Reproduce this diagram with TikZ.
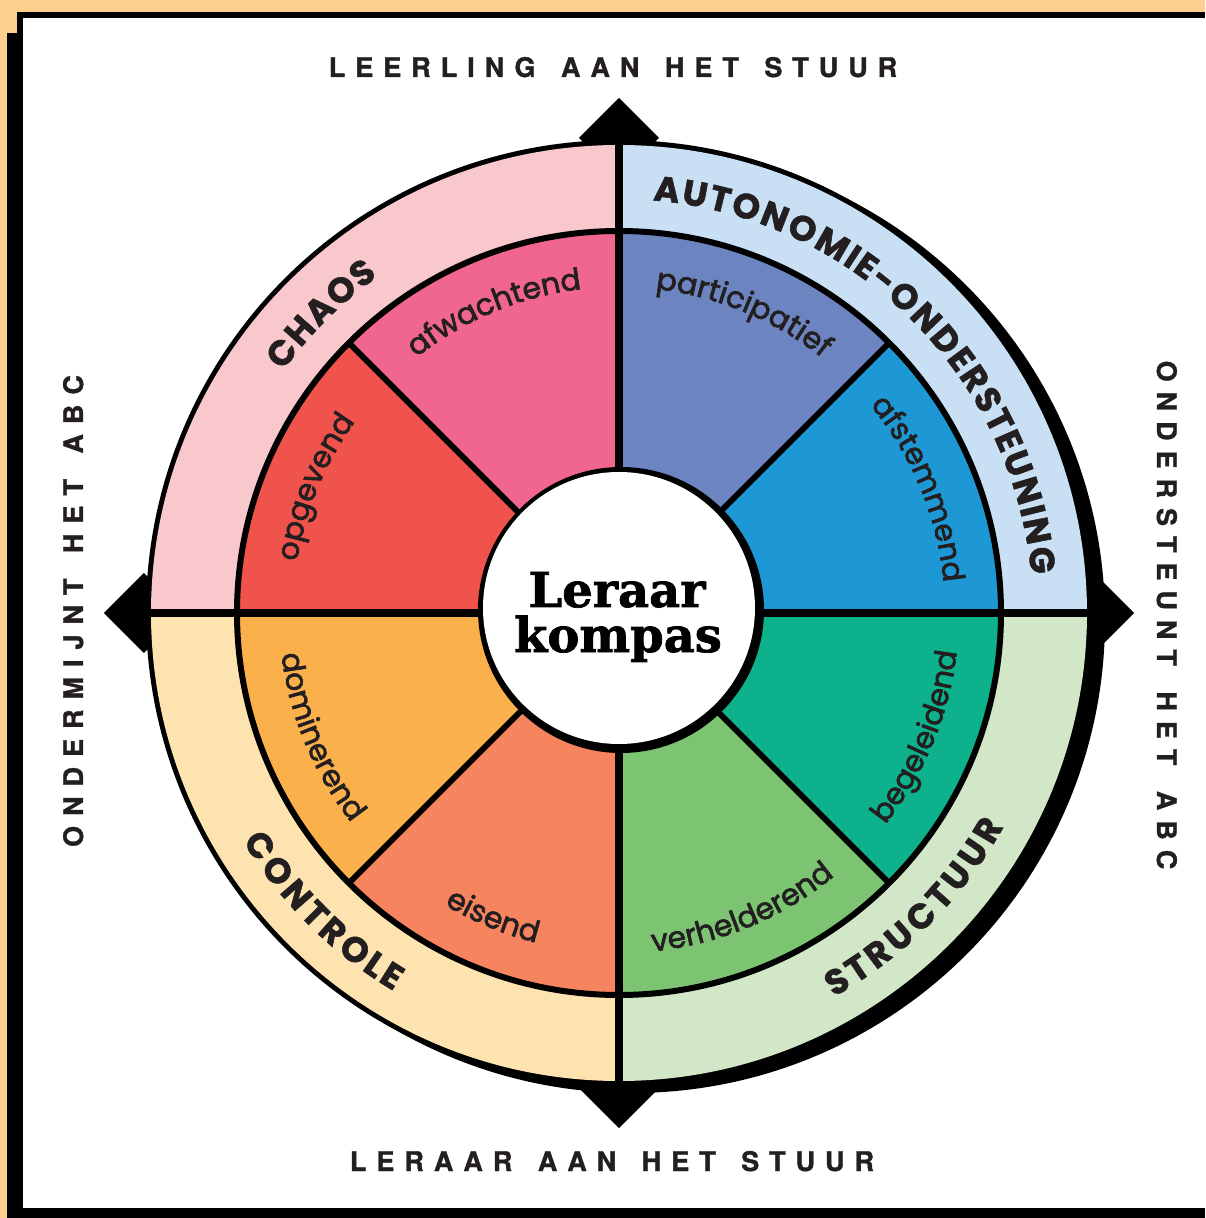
\documentclass[tikz,border=0pt]{standalone}
\usepackage{fontspec}
\usetikzlibrary{decorations.text}

\newfontfamily\wheelfont{Poppins}[FakeBold=1.5]
\newfontfamily\wedgefont{Poppins}[FakeBold=2.2]
\newfontfamily\sidefont{TeX Gyre Heros}[LetterSpace=37, FakeBold=1.2]
\newfontfamily\titlefont{DejaVu Serif}[FakeBold=1.5]

\definecolor{bgorange}{HTML}{FCCF8C}
\definecolor{ink}{HTML}{231F20}
\definecolor{chaosring}{HTML}{F9C8CD}
\definecolor{autoring}{HTML}{C9E0F4}
\definecolor{structring}{HTML}{D1E7C7}
\definecolor{controlring}{HTML}{FDE3AF}
\definecolor{afwachtend}{HTML}{F0668F}
\definecolor{participatief}{HTML}{6C84C0}
\definecolor{afstemmend}{HTML}{1E98D5}
\definecolor{begeleidend}{HTML}{0DB28D}
\definecolor{verhelderend}{HTML}{7CC472}
\definecolor{eisend}{HTML}{F5845F}
\definecolor{dominerend}{HTML}{FBB14B}
\definecolor{opgevend}{HTML}{F0534C}

\newcommand\wedgestyle{\wedgefont\fontsize{30}{36}\selectfont}
\newcommand\ringstyle{\wheelfont\bfseries\fontsize{35}{40}\selectfont}
\newcommand\wsp{\ \hspace{8pt}}

\begin{document}
\begin{tikzpicture}[x=1pt,y=1pt,
  sidelabel/.style={font=\sidefont\bfseries\fontsize{27}{32}\selectfont, text=ink, inner sep=0pt, anchor=base},
  title/.style={font=\titlefont\bfseries\fontsize{48}{48}\selectfont, inner sep=0pt, anchor=base},
  wedgelabel/.style={decorate, decoration={text along path, text align=center, text color=ink, text={|\wedgestyle|#1}}},
  ringlabel/.style={decorate, decoration={text effects along path, text={#1},
    text effects/.cd, text along path, fit text to path, characters={font=\ringstyle, text=ink, inner sep=0pt}}}]
  \useasboundingbox (-619,-605) rectangle (586,613);
  % frame
  \fill[bgorange] (-619,-605) rectangle (586,613);
  \fill (-612,580) rectangle (-602,-605);
  \fill (-602,601) rectangle (586,-605);
  \fill[white] (-596,595) rectangle (586,-595);
  % compass points
  \foreach \a in {0,90,180,270}
    \fill[shift={(\a:475)}] (40,0) -- (0,40) -- (-40,0) -- (0,-40) -- cycle;
  % outer ring
  \fill (13,-7) circle[radius=473];
  \fill (0,0) circle[radius=473];
  \foreach \a/\col in {90/chaosring, 0/autoring, -90/structring, 180/controlring}
    \fill[\col] (0,0) -- (\a:468) arc[start angle=\a, delta angle=90, radius=468] -- cycle;
  % wedges
  \foreach \a/\col in {90/afwachtend, 45/participatief, 0/afstemmend, -45/begeleidend,
                       -90/verhelderend, -135/eisend, 180/dominerend, 135/opgevend}
    \fill[\col] (0,0) -- (\a:382) arc[start angle=\a, delta angle=45, radius=382] -- cycle;
  \draw[line width=6] (0,0) circle[radius=382];
  \foreach \a in {45,135,225,315}
    \draw[line width=6] (0,0) -- (\a:382);
  \draw[line width=8] (0,470) -- (0,-470);
  \draw[line width=8] (-470,0) -- (470,0);
  % centre
  \fill (2,3) circle[radius=143];
  \fill[white] (0,5) circle[radius=136];
  \node[title] (leraar) at (-2,6) {Leraar};
  \node[title] (kompas) at (-1,-39) {kompas};
  % wedge labels
  \path[wedgelabel=afwachtend] (152.5:326) arc[start angle=152.5, end angle=72.5, radius=326];
  \path[wedgelabel=participatief] (107.5:326) arc[start angle=107.5, end angle=27.5, radius=326];
  \path[wedgelabel=afstemmend] (62.5:326) arc[start angle=62.5, end angle=-17.5, radius=326];
  \path[wedgelabel=opgevend] (197.5:326) arc[start angle=197.5, end angle=117.5, radius=326];
  \path[wedgelabel=begeleidend] (-62.5:340) arc[start angle=-62.5, end angle=17.5, radius=340];
  \path[wedgelabel=verhelderend] (-107.5:340) arc[start angle=-107.5, end angle=-27.5, radius=340];
  \path[wedgelabel=eisend] (207.5:340) arc[start angle=207.5, end angle=287.5, radius=340];
  \path[wedgelabel=dominerend] (162.5:340) arc[start angle=162.5, end angle=242.5, radius=340];
  % ring labels
  \path[ringlabel=CHAOS] (144.2:414) arc[start angle=144.2, end angle=125.6, radius=414];
  \path[ringlabel=AUTONOMIE-ONDERSTEUNING] (85.3:414) arc[start angle=85.3, end angle=5.3, radius=414];
  \path[ringlabel=STRUCTUUR] (-60.8:440) arc[start angle=-60.8, end angle=-29, radius=440];
  \path[ringlabel=CONTROLE] (211.2:440) arc[start angle=211.2, end angle=239.2, radius=440];
  % side labels
  \node[sidelabel] (leerling) at (-6,536) {LEERLING\wsp AAN\wsp HET\wsp STUUR};
  \node[sidelabel] (leraarstuur) at (-7,-558) {LERAAR\wsp AAN\wsp HET\wsp STUUR};
  \node[sidelabel, rotate=90] (ondermijnt) at (-536,2) {ONDERMIJNT\wsp HET\wsp ABC};
  \node[sidelabel, rotate=-90] (ondersteunt) at (538,-2) {ONDERSTEUNT\wsp HET\wsp ABC};
\end{tikzpicture}
\end{document}
